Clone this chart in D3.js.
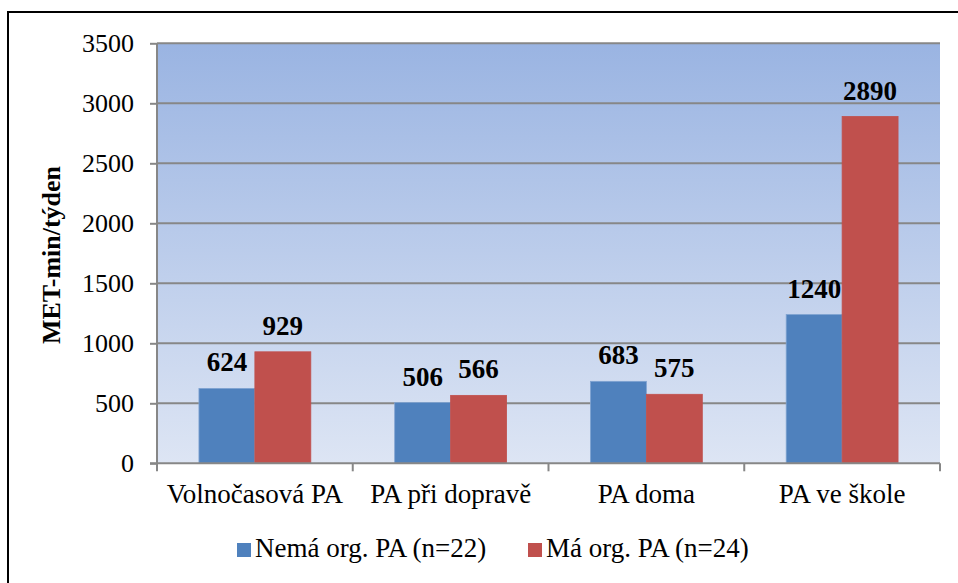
<!DOCTYPE html>
<html><head><meta charset="utf-8">
<script src="https://cdn.jsdelivr.net/npm/d3@7"></script>
</head><body style="margin:0;background:#fff">
<script>
const categories = ["Volnočasová PA", "PA při dopravě", "PA doma", "PA ve škole"];
const seriesNames = ["Nemá org. PA (n=22)", "Má org. PA (n=24)"];
const nema = [624, 506, 683, 1240];
const ma = [929, 566, 575, 2890];
const yTicks = [0, 500, 1000, 1500, 2000, 2500, 3000, 3500];
const colors = ["#4F81BD", "#C0504D"];
const strokeColors = ["#7FA3D1", "#C0504D"];
const FONT = '"Liberation Serif"';

const W = 958, H = 583;
const svg = d3.select("body").append("svg").attr("width", W).attr("height", H).style("display", "block")
  .style("font-family", FONT);
const defs = svg.append("defs");
const grad = defs.append("linearGradient").attr("id", "bg").attr("x1", 0).attr("y1", 0).attr("x2", 0).attr("y2", 1);
grad.append("stop").attr("offset", "0%").attr("stop-color", "#9AB4E2");
grad.append("stop").attr("offset", "100%").attr("stop-color", "#DDE5F4");

svg.append("rect").attr("x", 8).attr("y", 12).attr("width", 970).attr("height", 600)
  .attr("fill", "none").attr("stroke", "#000").attr("stroke-width", 2);

const pL = 157, pR = 940, pT = 43.3, pB = 463.3;
const x0 = d3.scaleBand().domain(categories).range([pL, pR]).paddingInner(0).paddingOuter(0);
const x1 = d3.scaleBand().domain([0, 1]).range([0, x0.bandwidth()]).paddingInner(0).paddingOuter(0.75);
const y = d3.scaleLinear().domain([0, 3500]).range([pB, pT]);

svg.append("rect").attr("x", pL).attr("y", pT).attr("width", pR - pL).attr("height", pB - pT).attr("fill", "url(#bg)");

// gridlines
svg.append("g").selectAll("line").data(yTicks.filter(d => d > 0)).join("line")
  .attr("x1", pL).attr("x2", pR).attr("y1", d => y(d)).attr("y2", d => y(d))
  .attr("stroke", "#878787").attr("stroke-width", 2);

// y axis
const yAxis = svg.append("g").attr("transform", `translate(${pL},0)`)
  .call(d3.axisLeft(y).tickValues(yTicks).tickSize(7).tickPadding(16).tickFormat(d3.format("d")));
yAxis.attr("font-family", "Liberation Serif").attr("font-size", 26);
yAxis.select(".domain").attr("stroke", "#878787").attr("stroke-width", 2).attr("d", `M0,${pB}V${pT}`);
yAxis.selectAll(".tick line").attr("stroke", "#878787").attr("stroke-width", 2);
yAxis.selectAll(".tick text").attr("fill", "#000").style("font-family", FONT).style("font-size", "26px");

// bars
const series = [nema, ma];
series.forEach((vals, si) => {
  const g = svg.append("g");
  g.selectAll("rect").data(categories).join("rect")
    .attr("x", (c) => x0(c) + x1(si))
    .attr("width", x1.bandwidth())
    .attr("y", (c, i) => y(vals[i]))
    .attr("height", (c, i) => pB - y(vals[i]))
    .attr("fill", colors[si]).attr("stroke", strokeColors[si]).attr("stroke-width", 0.8);
  g.selectAll("text").data(categories).join("text")
    .attr("x", (c) => x0(c) + x1(si) + x1.bandwidth() / 2)
    .attr("y", (c, i) => y(vals[i]) - 17)
    .attr("text-anchor", "middle")
    .style("font-family", FONT).style("font-weight", "bold").style("font-size", "27px")
    .text((c, i) => vals[i]);
});

// x axis
const xAxis = svg.append("g").attr("transform", `translate(0,${pB})`)
  .call(d3.axisBottom(x0).tickSize(0).tickPadding(0));
xAxis.attr("font-family", "Liberation Serif").attr("font-size", 27);
xAxis.select(".domain").remove();
xAxis.selectAll(".tick text").attr("fill", "#000").attr("dy", 0).attr("y", 40)
  .style("font-family", FONT).style("font-size", "27px");
const bounds = [pL, ...categories.map(c => x0(c) + x0.bandwidth())];
svg.append("line").attr("x1", pL - 7).attr("x2", pR).attr("y1", pB).attr("y2", pB)
  .attr("stroke", "#878787").attr("stroke-width", 2);
svg.append("g").selectAll("line").data(bounds).join("line")
  .attr("x1", d => d).attr("x2", d => d).attr("y1", pB).attr("y2", pB + 8)
  .attr("stroke", "#878787").attr("stroke-width", 2);

// y title
svg.append("text").attr("transform", "translate(60,255) rotate(-90)")
  .attr("text-anchor", "middle")
  .style("font-family", FONT).style("font-weight", "bold").style("font-size", "26px").text("MET-min/týden");

// legend
const legendX = [237, 528];
seriesNames.forEach((n, i) => {
  svg.append("rect").attr("x", legendX[i]).attr("y", 543).attr("width", 14).attr("height", 14).attr("fill", colors[i]);
  svg.append("text").attr("x", legendX[i] + 18).attr("y", 557)
    .style("font-family", FONT).style("font-size", "27px").text(n);
});
</script>
</body></html>
